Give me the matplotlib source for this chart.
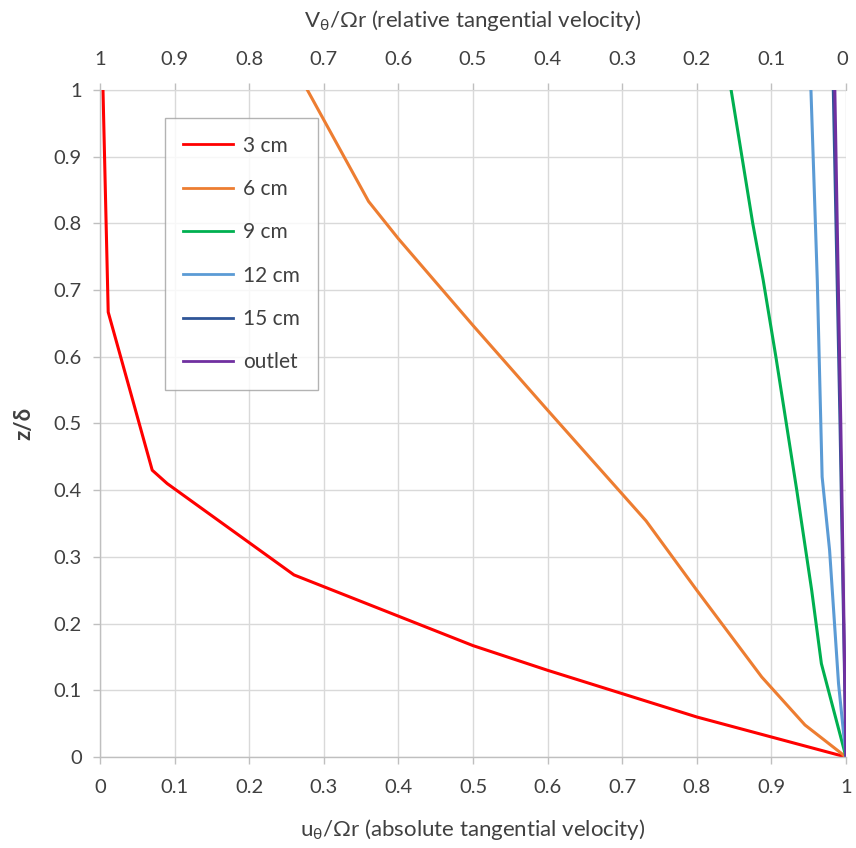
import matplotlib
matplotlib.use("Agg")
import matplotlib.pyplot as plt
import matplotlib.transforms as mtransforms
from matplotlib.ticker import MultipleLocator, FuncFormatter

plt.rcParams['font.family'] = ['Lato', 'DejaVu Sans']
plt.rcParams['mathtext.fontset'] = 'custom'
plt.rcParams['mathtext.rm'] = 'Lato'

# Absolute tangential velocity u_theta/(Omega r) against z/delta at each station
z_3cm = [0.0, 0.03, 0.06, 0.095, 0.13, 0.167, 0.273, 0.41, 0.43, 0.667, 1.0]
u_3cm = [1.0, 0.9, 0.8, 0.7, 0.6, 0.5, 0.26, 0.09, 0.07, 0.011, 0.004]

z_6cm = [0.0, 0.048, 0.12, 0.25, 0.354, 0.52, 0.647, 0.777, 0.833, 1.0]
u_6cm = [1.0, 0.945, 0.887, 0.80, 0.732, 0.60, 0.50, 0.40, 0.36, 0.278]

z_9cm = [0.0, 0.14, 0.25, 0.4, 0.6, 0.715, 0.8, 1.0]
u_9cm = [1.0, 0.967, 0.954, 0.934, 0.906, 0.889, 0.875, 0.846]

z_12cm = [0.0, 0.11, 0.31, 0.42, 0.715, 1.0]
u_12cm = [1.0, 0.99, 0.978, 0.968, 0.9615, 0.953]

z_15cm = [0.0, 0.5, 1.0]
u_15cm = [1.0, 0.992, 0.983]

z_outlet = [0.0, 0.5, 1.0]
u_outlet = [1.0, 0.993, 0.985]

series = [
    ("3 cm", u_3cm, z_3cm, "#FF0000"),
    ("6 cm", u_6cm, z_6cm, "#ED7D31"),
    ("9 cm", u_9cm, z_9cm, "#00B050"),
    ("12 cm", u_12cm, z_12cm, "#5B9BD5"),
    ("15 cm", u_15cm, z_15cm, "#2F5597"),
    ("outlet", u_outlet, z_outlet, "#7030A0"),
]

fig = plt.figure(figsize=(8.56, 8.48), dpi=100)
ax = fig.add_axes([100 / 856, 1 - 757 / 848, 746 / 856, 667 / 848])

for label, u, z, color in series:
    ax.plot(u, z, color=color, lw=2.2, label=label, solid_joinstyle='round')

ax.set_xlim(0, 1)
ax.set_ylim(0, 1)
ax.xaxis.set_major_locator(MultipleLocator(0.1))
ax.yaxis.set_major_locator(MultipleLocator(0.1))

def fmt(v, pos):
    s = f"{v:.1f}"
    if s.endswith(".0"):
        s = s[:-2]
    return s

ax.xaxis.set_major_formatter(FuncFormatter(fmt))
ax.yaxis.set_major_formatter(FuncFormatter(fmt))

grid_c = "#D9D9D9"
ax.grid(True, color=grid_c, lw=1.0)
ax.set_axisbelow(True)
for side in ["top", "right"]:
    ax.spines[side].set_visible(False)
for side in ["left", "bottom"]:
    ax.spines[side].set_color("#BFBFBF")
    ax.spines[side].set_linewidth(1.0)

tick_size = 14.5
ax.tick_params(axis='both', colors="#BFBFBF", labelcolor="#404040",
               labelsize=tick_size, length=5, width=1.0, direction='out')
ax.tick_params(axis='x', pad=11)
ax.tick_params(axis='y', pad=8)

# Relative velocity axis on top: V_theta/(Omega r) = 1 - u_theta/(Omega r)
sec = ax.secondary_xaxis('top', functions=(lambda x: 1 - x, lambda x: 1 - x))
sec.xaxis.set_major_locator(MultipleLocator(0.1))
sec.xaxis.set_major_formatter(FuncFormatter(fmt))
sec.spines['top'].set_color("#BFBFBF")
sec.tick_params(axis='x', colors="#BFBFBF", labelcolor="#404040",
                labelsize=tick_size, length=5, width=1.0, direction='out', pad=11)

ax.set_xlabel(r"u$_\mathregular{θ}$/Ωr (absolute tangential velocity)",
              fontsize=16, color="#404040", labelpad=15)
sec.set_xlabel(r"V$_\mathregular{θ}$/Ωr (relative tangential velocity)",
               fontsize=16, color="#404040", labelpad=17)
ax.set_ylabel("z/δ", fontsize=16, color="#404040", fontweight='bold', labelpad=14)

leg = ax.legend(loc='upper left', bbox_to_anchor=(0.087, 0.958), fontsize=15,
                frameon=True, fancybox=False, edgecolor="#A0A0A0",
                handlelength=2.4, labelspacing=1.12, borderpad=0.85,
                handletextpad=0.5, borderaxespad=0.0)
leg.get_frame().set_linewidth(1.0)
for t in leg.get_texts():
    t.set_color("#404040")
for h in leg.get_lines():
    h.set_linewidth(2.0)

# Nudge the right-most top label so it stays inside the canvas
fig.canvas.draw()
shift = mtransforms.ScaledTranslation(-3 / 72, 0, fig.dpi_scale_trans)
for tk in sec.xaxis.get_major_ticks():
    if abs(tk.get_loc()) < 1e-6:
        for lab in (tk.label1, tk.label2):
            lab.set_transform(lab.get_transform() + shift)

fig.savefig("out.png", dpi=100)
